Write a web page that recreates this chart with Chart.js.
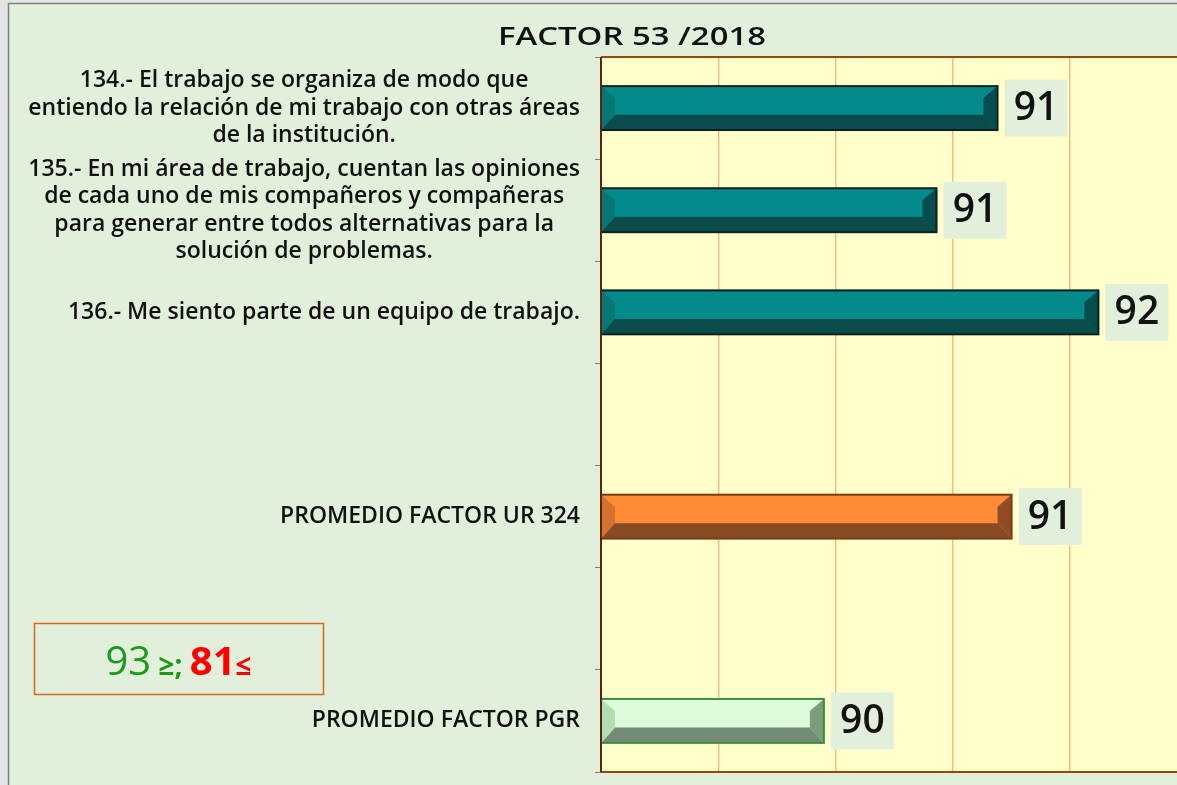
<!DOCTYPE html>
<html>
<head>
<meta charset="utf-8">
<title>Factor 53 / 2018</title>
<script src="https://cdn.jsdelivr.net/npm/chart.js@4.4.0/dist/chart.umd.min.js"></script>
<style>
  html, body { margin: 0; padding: 0; background: #e2efda; overflow: hidden; }
</style>
</head>
<body>
<canvas id="factorChart" width="1177" height="785"></canvas>
<script>
// Data
const categories = [
  ['134.- El trabajo se organiza de modo que', 'entiendo la relación de mi trabajo con otras áreas', 'de la institución.'],
  ['135.- En mi área de trabajo, cuentan las opiniones', 'de cada uno de mis compañeros y compañeras', 'para generar entre todos alternativas para la', 'solución de problemas.'],
  ['136.- Me siento parte de un equipo de trabajo.'],
  [''],
  ['PROMEDIO FACTOR UR 324'],
  [''],
  ['PROMEDIO FACTOR PGR']
];
const scores = [91.19, 90.93, 91.62, null, 91.25, null, 90.45];
const xTicks = [89.5, 90, 90.5, 91, 91.5];
const chartTitle = 'FACTOR 53 /2018';
const noteParts = ['93', ' ≥; ', '81', '≤'];

// Styles
const barLook = ['teal', 'teal', 'teal', null, 'orange', null, 'green'];
const looks = {
  teal:   { face: '#038b8b', left: '#077676', right: '#064d4d', bottom: '#0b4b4b', edge: '#0c1f1f' },
  orange: { face: '#ff8b37', left: '#d6702f', right: '#8e4d24', bottom: '#874b24', edge: '#7a3c14' },
  green:  { face: '#dcfcdc', left: '#b3dcb3', right: '#7c9c7c', bottom: '#758a75', edge: '#3a8f3a' }
};
const labelFont = '600 23px "Open Sans"';
const noteStyles = [
  { color: '#1a9a1a', font: '400 40px "Open Sans"' },
  { color: '#1a9a1a', font: '700 28px "Open Sans"' },
  { color: '#ff0000', font: '700 40px "Open Sans"' },
  { color: '#ff0000', font: '700 28px "Open Sans"' }
];

// Page background + plot area
const backdrop = {
  id: 'backdrop',
  beforeDraw(chart) {
    const { ctx, chartArea: a, width, height } = chart;
    ctx.save();
    ctx.fillStyle = '#e4e4e4';
    ctx.fillRect(0, 0, width, height);
    ctx.fillStyle = '#e2efda';
    ctx.fillRect(8, 3, width - 8, height - 3);
    ctx.strokeStyle = '#7f7f7f';
    ctx.lineWidth = 1.5;
    ctx.beginPath();
    ctx.moveTo(8.5, height);
    ctx.lineTo(8.5, 3.5);
    ctx.lineTo(width, 3.5);
    ctx.stroke();
    ctx.fillStyle = '#ffffcc';
    ctx.fillRect(a.left, a.top, a.right - a.left, a.bottom - a.top);
    ctx.restore();
  }
};

// 3D looking bars, value boxes, border, labels, title, note
const decorations = {
  id: 'decorations',
  afterDatasetsDraw(chart) {
    const { ctx, chartArea: a } = chart;
    const meta = chart.getDatasetMeta(0);
    ctx.save();
    meta.data.forEach((bar, i) => {
      if (scores[i] == null) return;
      const look = looks[barLook[i]];
      const { x, y, base, height } = bar.getProps(['x', 'y', 'base', 'height'], true);
      const x0 = Math.max(base, a.left), x1 = x, yT = y - height / 2, yB = y + height / 2;
      const bw = 14, tb = 12, bh = height * 0.35;

      ctx.fillStyle = look.face;
      ctx.fillRect(x0, yT, x1 - x0, yB - yT);

      ctx.fillStyle = look.bottom;
      ctx.beginPath();
      ctx.moveTo(x0, yB); ctx.lineTo(x0 + bw, yB - bh); ctx.lineTo(x1 - bw, yB - bh); ctx.lineTo(x1, yB);
      ctx.closePath(); ctx.fill();

      ctx.fillStyle = look.left;
      ctx.beginPath();
      ctx.moveTo(x0, yT); ctx.lineTo(x0 + bw, yT + tb); ctx.lineTo(x0 + bw, yB - bh); ctx.lineTo(x0, yB);
      ctx.closePath(); ctx.fill();

      ctx.fillStyle = look.right;
      ctx.beginPath();
      ctx.moveTo(x1, yT); ctx.lineTo(x1 - bw, yT + tb); ctx.lineTo(x1 - bw, yB - bh); ctx.lineTo(x1, yB);
      ctx.closePath(); ctx.fill();

      ctx.strokeStyle = look.edge;
      ctx.lineWidth = 2;
      ctx.strokeRect(x0, yT, x1 - x0, yB - yT);

      // value box
      const bx = x1 + 7, bwid = 63, bht = 57;
      ctx.fillStyle = '#e2efda';
      ctx.fillRect(bx, y - bht / 2, bwid, bht);
      ctx.fillStyle = '#111';
      ctx.font = '600 39px "Open Sans"';
      ctx.textAlign = 'center';
      ctx.textBaseline = 'middle';
      ctx.fillText(String(Math.round(scores[i])), bx + bwid / 2, y + 1);
    });

    // plot border
    ctx.strokeStyle = '#984807';
    ctx.lineWidth = 2;
    ctx.beginPath();
    ctx.moveTo(a.right, a.top); ctx.lineTo(a.left, a.top);
    ctx.moveTo(a.left, a.bottom); ctx.lineTo(a.right, a.bottom);
    ctx.stroke();
    ctx.strokeStyle = '#5a2808';
    ctx.beginPath();
    ctx.moveTo(a.left, a.top); ctx.lineTo(a.left, a.bottom);
    ctx.stroke();
    ctx.restore();
  },
  afterDraw(chart) {
    const { ctx } = chart;
    const yScale = chart.scales.y;
    ctx.save();
    ctx.fillStyle = '#111';
    ctx.textBaseline = 'middle';
    ctx.textAlign = 'center';
    ctx.font = labelFont;
    const lineH = 27.5, rightEdge = 580;
    categories.forEach((lines, i) => {
      const yc = yScale.getPixelForValue(i);
      const maxW = Math.max(...lines.map(t => ctx.measureText(t).width));
      const cx = rightEdge - maxW / 2;
      lines.forEach((t, k) => {
        ctx.fillText(t, cx, yc + (k - (lines.length - 1) / 2) * lineH);
      });
    });

    // title, stretched a little to the width of the original typeface
    ctx.font = '600 25px "Open Sans"';
    const tw = ctx.measureText(chartTitle).width;
    ctx.save();
    ctx.translate(632, 38);
    ctx.scale(268 / tw, 1);
    ctx.fillText(chartTitle, 0, 0);
    ctx.restore();

    // range note
    ctx.strokeStyle = '#d2691e';
    ctx.lineWidth = 1.5;
    ctx.strokeRect(34.5, 623.5, 289, 71);
    ctx.textAlign = 'left';
    ctx.textBaseline = 'alphabetic';
    const widths = noteParts.map((t, k) => { ctx.font = noteStyles[k].font; return ctx.measureText(t).width; });
    let nx = 178.5 - widths.reduce((p, q) => p + q, 0) / 2;
    noteParts.forEach((t, k) => {
      ctx.font = noteStyles[k].font;
      ctx.fillStyle = noteStyles[k].color;
      ctx.fillText(t, nx, 675);
      nx += widths[k];
    });
    ctx.restore();
  }
};

new Chart(document.getElementById('factorChart'), {
  type: 'bar',
  data: {
    labels: categories,
    datasets: [{
      data: scores,
      backgroundColor: barLook.map(k => k ? looks[k].face : 'transparent'),
      borderWidth: 0,
      barPercentage: 0.43,
      categoryPercentage: 1
    }]
  },
  options: {
    indexAxis: 'y',
    responsive: false,
    animation: false,
    layout: { padding: { top: 57, bottom: 13, left: 0, right: 0 } },
    plugins: {
      legend: { display: false },
      title: { display: false },
      tooltip: { enabled: false }
    },
    scales: {
      x: {
        min: 89.5,
        max: 91.955,
        afterBuildTicks: s => { s.ticks = xTicks.map(v => ({ value: v })); },
        afterFit: s => { s.height = 0; },
        ticks: { display: false },
        grid: { color: '#f8bb88', lineWidth: 1.5, drawTicks: false },
        border: { display: false }
      },
      y: {
        afterFit: s => { s.width = 601; },
        ticks: { display: false },
        grid: { offset: true, drawOnChartArea: false, drawTicks: true, tickLength: 6, color: '#7f7f7f' },
        border: { display: false }
      }
    }
  },
  plugins: [backdrop, decorations]
});
</script>
</body>
</html>
